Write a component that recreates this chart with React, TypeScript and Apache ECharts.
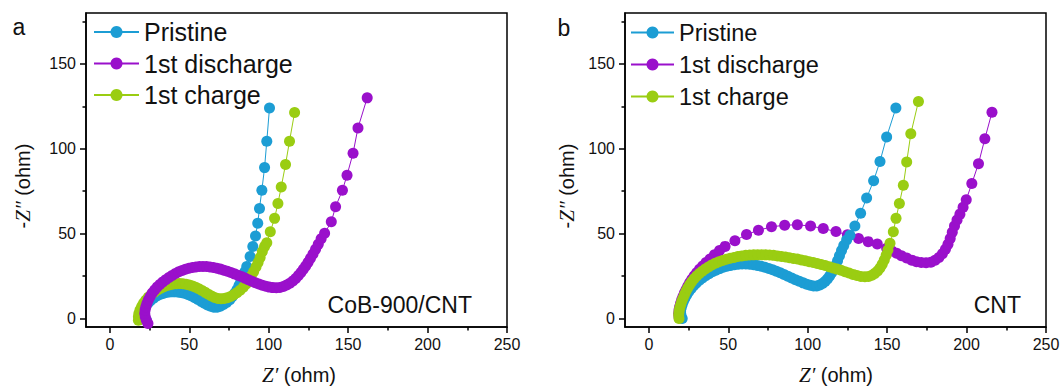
import { useEffect, useRef } from 'react';
import * as echarts from 'echarts';

const SERIES_NAMES = ['Pristine', '1st discharge', '1st charge'];
const COLORS: Record<string, string> = {
  Pristine: '#1C9DD4',
  '1st discharge': '#9A10CB',
  '1st charge': '#9ACD12',
};
const X_TICKS = [0, 50, 100, 150, 200, 250];
const X_MINOR_TICKS = [25, 75, 125, 175, 225];
const Y_TICKS = [0, 50, 100, 150];
const Y_MINOR_TICKS = [25, 75, 125, 175];
const X_MIN = -15;
const X_MAX = 250;
const Y_MIN = -5;
const Y_MAX = 180;

// Panel a: CoB-900/CNT
const A_PRISTINE = [
  [23, -1], [21.5, 1], [21, 3], [21.5, 5], [22.5, 7], [24, 9], [25.5, 10.5], [27.5, 12], [29.5, 13.2], [31.5, 14.2],
  [33.5, 14.8], [35.5, 15.3], [37.5, 15.6], [39.5, 15.7], [41.5, 15.7], [43.5, 15.5], [45.5, 15.2], [47.5, 14.7], [49.5, 14], [51.5, 13.2],
  [53.5, 12.2], [55.5, 11.2], [57.5, 10.1], [59.5, 9], [61.5, 8], [63.5, 7.2], [65.5, 6.7], [67.5, 6.7], [69.5, 7.2], [71.5, 8.2],
  [73.5, 9.5], [75.5, 11], [77, 12.8], [78.5, 14.8], [80, 17], [81.3, 19.5], [82.5, 22], [83.7, 24.5], [85, 27.5], [86.2, 30.6],
  [88.3, 36.5], [90, 42.4], [91.7, 48.6], [93.1, 56.1], [94.2, 64.8], [95.7, 75.6], [97.4, 88.9], [98.8, 104.5], [100.5, 124],
];
const A_DISCHARGE = [
  [24, -3], [23, -1], [22.3, 1], [22, 3], [22.2, 5], [22.7, 7], [23.4, 9], [24.3, 11], [25.4, 13], [26.7, 15],
  [28.2, 16.8], [29.8, 18.5], [31.5, 20], [33.3, 21.5], [35.2, 22.9], [37.2, 24.2], [39.2, 25.4], [41.3, 26.5], [43.4, 27.5], [45.5, 28.3],
  [47.6, 29], [49.8, 29.6], [52, 30.1], [54.2, 30.4], [56.4, 30.6], [58.6, 30.7], [60.8, 30.6], [63, 30.4], [65.2, 30.1], [67.4, 29.6],
  [69.6, 29.1], [71.8, 28.5], [74, 27.8], [76.2, 27.1], [78.4, 26.3], [80.6, 25.5], [82.8, 24.7], [85, 23.8], [87.2, 22.9], [89.4, 22],
  [91.6, 21.1], [93.8, 20.3], [96, 19.6], [98.2, 19], [100.4, 18.5], [102.6, 18.2], [104.8, 18.1], [107, 18.3], [109.2, 18.8], [111.3, 19.7],
  [113.3, 20.8], [115.2, 22.1], [117, 23.6], [118.7, 25.3], [120.3, 27.1], [121.8, 29], [123.3, 31], [124.8, 33.2], [126.3, 35.5], [127.9, 38],
  [129.5, 40.8], [131.2, 43.8], [133, 47], [135.2, 50.2], [139.4, 57], [142.1, 65.8], [146.4, 75.6], [149.3, 84.4], [153.1, 97.4], [156.2, 112.3],
  [162, 130],
];
const A_CHARGE = [
  [18, -1], [18, 1], [18.3, 3], [19, 5], [20, 7], [21.2, 9], [22.6, 10.8], [24.2, 12.5], [26, 14], [28, 15.5],
  [30, 16.8], [32, 17.8], [34, 18.7], [36, 19.4], [38, 19.9], [40, 20.3], [42, 20.5], [44, 20.6], [46, 20.5], [48, 20.2],
  [50, 19.8], [52, 19.2], [54, 18.4], [56, 17.5], [58, 16.5], [60, 15.4], [62, 14.3], [64, 13.3], [66, 12.4], [68, 11.8],
  [70, 11.6], [72, 11.8], [74, 12.3], [76, 13], [78, 14], [80, 15.2], [82, 16.7], [84, 18.4], [85.8, 20.3], [87.5, 22.5],
  [89, 25], [90.5, 27.5], [92, 30.3], [93.3, 33], [94.6, 36], [96, 39.5], [97.4, 42.5], [98.8, 44.7], [101, 51.1], [103.7, 59],
  [105.8, 67.8], [107.9, 77.5], [110.6, 90.8], [113.1, 104.5], [116.3, 121.4],
];

// Panel b: CNT
const B_PRISTINE = [
  [21, 0], [20.2, 2], [20, 4], [20.3, 6], [20.9, 8], [21.7, 10], [22.7, 12], [23.9, 14], [25.2, 15.9], [26.7, 17.7],
  [28.3, 19.4], [30, 21], [31.8, 22.5], [33.7, 23.9], [35.7, 25.2], [37.8, 26.4], [40, 27.5], [42.2, 28.5], [44.5, 29.4], [46.8, 30.2],
  [49.1, 30.8], [51.5, 31.3], [53.9, 31.7], [56.3, 32], [58.7, 32.1], [61.1, 32.1], [63.5, 32], [65.9, 31.7], [68.3, 31.3], [70.7, 30.8],
  [73.1, 30.2], [75.5, 29.5], [77.9, 28.7], [80.3, 27.8], [82.7, 26.9], [85.1, 25.9], [87.5, 24.9], [89.9, 23.9], [92.3, 22.9], [94.7, 21.9],
  [97.1, 21], [99.4, 20.2], [101.6, 19.6], [103.7, 19.2], [105.7, 19.2], [107.6, 19.7], [109.3, 20.6], [110.9, 21.8], [112.4, 23.3], [113.8, 25],
  [115.1, 26.9], [116.4, 29], [117.6, 31.3], [118.8, 34], [120, 37], [121.3, 40], [122.7, 43], [124.5, 46.3], [126.6, 49], [129.7, 54.5],
  [133.3, 62], [137.1, 71], [141.5, 81.2], [145.5, 92.5], [149.7, 107], [155.5, 124],
];
const B_DISCHARGE = [
  [19, 1], [18.8, 3], [19, 5], [19.4, 7], [20, 9], [20.7, 11], [21.5, 13], [22.4, 15], [23.4, 17], [24.5, 19],
  [25.7, 21], [27, 23], [28.5, 25], [30.1, 27], [31.9, 29], [33.9, 31], [36, 33], [38.5, 35], [41.3, 37.5], [44.5, 40],
  [48, 42.5], [54.2, 45.8], [61.5, 49.5], [69, 52], [77.2, 54], [85.5, 55], [93.5, 55.2], [101.8, 54.5], [109.8, 53], [117.8, 51.2],
  [125, 49.3], [132, 47.2], [138.1, 45.3], [143.8, 43.9], [149.7, 41.4], [153, 39.8], [156, 38.4], [159, 37], [162.3, 35.6], [165.5, 34.4],
  [168.5, 33.5], [171.5, 33], [174.5, 32.8], [177.5, 33.2], [180.2, 34.3], [182.6, 36], [184.8, 38.2], [186.7, 40.8], [188.3, 43.8], [189.7, 47.2],
  [191, 50.8], [192.4, 54.5], [194, 58], [195.8, 61.5], [197.8, 65.5], [199.8, 70], [203.3, 79.5], [207.5, 91.2], [211.5, 105.9], [216, 121.5],
];
const B_CHARGE = [
  [19, 0], [18.8, 2], [19, 4], [19.4, 6], [20, 8], [20.7, 10], [21.5, 12], [22.4, 14], [23.4, 16], [24.5, 18],
  [25.7, 19.9], [27, 21.7], [28.5, 23.4], [30.1, 25], [31.8, 26.5], [33.6, 27.9], [35.5, 29.2], [37.5, 30.4], [39.6, 31.5], [41.8, 32.5],
  [44.1, 33.4], [46.4, 34.2], [48.8, 34.9], [51.2, 35.5], [53.6, 36], [56, 36.5], [58.5, 36.9], [61, 37.2], [63.5, 37.4], [66, 37.5],
  [68.5, 37.6], [71, 37.6], [73.5, 37.5], [76, 37.4], [78.5, 37.2], [81, 36.9], [83.5, 36.6], [86, 36.2], [88.5, 35.8], [91, 35.4],
  [93.5, 35], [96, 34.5], [98.5, 34], [101, 33.5], [103.5, 33], [106, 32.4], [108.5, 31.8], [111, 31.2], [113.5, 30.5], [116, 29.8],
  [118.5, 29.1], [121, 28.4], [123.5, 27.6], [126, 26.8], [128.5, 26], [131, 25.3], [133.5, 24.8], [136, 24.6], [138.3, 24.8], [140.4, 25.5],
  [142.3, 26.6], [144, 28], [145.5, 29.8], [146.9, 32], [148.2, 34.5], [149.4, 37.3], [150.5, 40.4], [151.8, 44.3], [153.9, 51.1], [155.6, 59],
  [157.7, 67.8], [160.2, 78.5], [162.3, 92.2], [164.9, 108.8], [169.7, 127.9],
];

const FONT = '"Liberation Sans", Arial, Helvetica, sans-serif';
const SERIF = '"Liberation Serif", "Times New Roman", serif';
const INK = '#111';

function xAxes(grid: number) {
  const lineStyle = { color: '#000', width: 1.5 };
  return [
    {
      type: 'value', gridIndex: grid, min: X_MIN, max: X_MAX, position: 'bottom',
      axisLine: { show: true, onZero: false, lineStyle },
      axisTick: { show: true, inside: false, length: 6, lineStyle, customValues: X_TICKS },
      axisLabel: { show: true, margin: 9, fontSize: 16, color: INK, fontFamily: FONT, customValues: X_TICKS },
      splitLine: { show: false },
    },
    {
      type: 'value', gridIndex: grid, min: X_MIN, max: X_MAX, position: 'bottom',
      axisLine: { show: false, onZero: false },
      axisTick: { show: true, inside: false, length: 3.5, lineStyle, customValues: X_MINOR_TICKS },
      axisLabel: { show: false },
      splitLine: { show: false },
    },
  ];
}

function yAxes(grid: number) {
  const lineStyle = { color: '#000', width: 1.5 };
  return [
    {
      type: 'value', gridIndex: grid, min: Y_MIN, max: Y_MAX, position: 'left',
      axisLine: { show: true, onZero: false, lineStyle },
      axisTick: { show: true, inside: false, length: 6, lineStyle, customValues: Y_TICKS },
      axisLabel: { show: true, margin: 10, fontSize: 16, color: INK, fontFamily: FONT, customValues: Y_TICKS },
      splitLine: { show: false },
    },
    {
      type: 'value', gridIndex: grid, min: Y_MIN, max: Y_MAX, position: 'left',
      axisLine: { show: false, onZero: false },
      axisTick: { show: true, inside: false, length: 3.5, lineStyle, customValues: Y_MINOR_TICKS },
      axisLabel: { show: false },
      splitLine: { show: false },
    },
  ];
}

function series(name: string, data: number[][], axisIndex: number) {
  const color = COLORS[name];
  return {
    type: 'line', name, data, xAxisIndex: axisIndex, yAxisIndex: axisIndex,
    symbol: 'circle', symbolSize: 11, showSymbol: true, showAllSymbol: true,
    lineStyle: { color, width: 1 }, itemStyle: { color },
    emphasis: { disabled: true }, clip: false,
  };
}

function legend(left: number, top: number, fontSize: number, itemWidth: number) {
  return {
    data: SERIES_NAMES, orient: 'vertical', left, top, padding: 0,
    itemWidth, itemHeight: 15, itemGap: 31.5 - fontSize,
    selectedMode: false,
    textStyle: { fontSize, lineHeight: fontSize, fontFamily: FONT, color: INK },
  };
}

function axisName(x: number, y: number, text: string, rotation: number) {
  return {
    type: 'text', x, y, rotation,
    style: {
      text, fontSize: 20, fontFamily: FONT, fill: INK, align: 'center', verticalAlign: 'middle',
      rich: { i: { fontFamily: SERIF, fontStyle: 'italic', fontSize: 21, fill: INK } },
    },
  };
}

function label(x: number, y: number, text: string, fontSize: number, align: string) {
  return {
    type: 'text', x, y,
    style: { text, fontSize, fontFamily: FONT, fill: INK, align, verticalAlign: 'middle' },
  };
}

export default function App() {
  const ref = useRef<HTMLDivElement>(null);
  useEffect(() => {
    if (!ref.current) return;
    const chart = echarts.init(ref.current, undefined, { renderer: 'svg' });
    chart.setOption({
      animation: false,
      backgroundColor: '#fff',
      grid: [
        { left: 86, top: 13, width: 421, height: 314, show: true, borderColor: '#000', borderWidth: 1.5 },
        { left: 625, top: 13, width: 421, height: 314, show: true, borderColor: '#000', borderWidth: 1.5 },
      ],
      xAxis: [...xAxes(0), ...xAxes(1)],
      yAxis: [...yAxes(0), ...yAxes(1)],
      legend: [legend(93, 19.5, 25, 45), legend(630, 20.5, 23.5, 43)],
      series: [
        series('Pristine', A_PRISTINE, 0),
        series('1st charge', A_CHARGE, 0),
        series('1st discharge', A_DISCHARGE, 0),
        series('1st discharge', B_DISCHARGE, 2),
        series('Pristine', B_PRISTINE, 2),
        series('1st charge', B_CHARGE, 2),
      ],
      graphic: [
        label(19, 27, 'a', 23, 'center'),
        label(564, 28, 'b', 23, 'center'),
        axisName(299, 375, '{i|Z′} (ohm)', 0),
        axisName(836, 375, '{i|Z′} (ohm)', 0),
        axisName(22.5, 186, '-{i|Z″} (ohm)', Math.PI / 2),
        axisName(567, 186, '-{i|Z″} (ohm)', Math.PI / 2),
        label(472, 305, 'CoB-900/CNT', 23, 'right'),
        label(1021, 305, 'CNT', 23, 'right'),
      ],
    });
    return () => chart.dispose();
  }, []);
  return <div ref={ref} style={{ position: 'fixed', left: 0, top: 0, width: '1064px', height: '390px' }} />;
}
